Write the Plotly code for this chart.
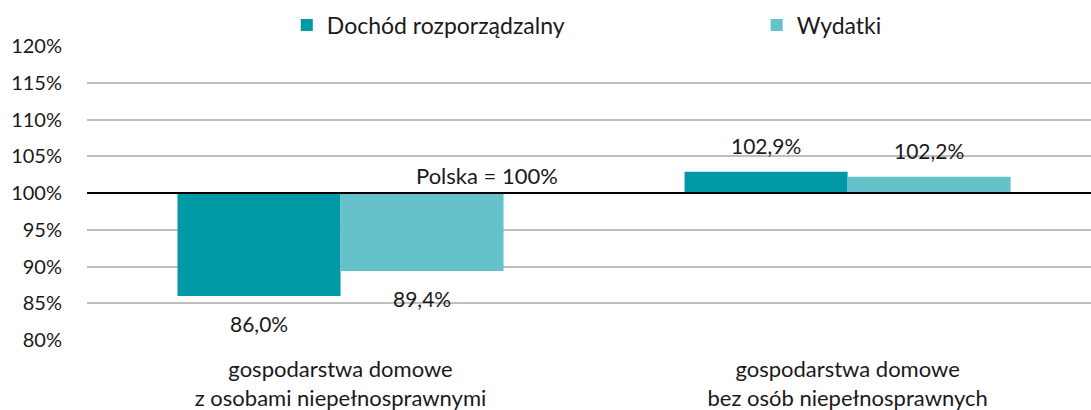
import plotly.graph_objects as go

categories = ["gospodarstwa domowe<br>z osobami niepełnosprawnymi",
              "gospodarstwa domowe<br>bez osób niepełnosprawnych"]
series_names = ["Dochód rozporządzalny", "Wydatki"]
dochod = [86.0, 102.9]
wydatki = [89.4, 102.2]
baseline = 100
y_ticks = [80, 85, 90, 95, 100, 105, 110, 115, 120]
y_ticklabels = [f"{v}%" for v in y_ticks]
colors = ["#009AA6", "#66C2CA"]

FONT = "Lato"
TXT = "#1a1a1a"
fig = go.Figure()
legend_ids = ["legend", "legend2"]
for name, vals, col, lg in zip(series_names, [dochod, wydatki], colors, legend_ids):
    fig.add_trace(go.Bar(
        name=name, x=categories, y=[v - baseline for v in vals], base=baseline,
        marker=dict(color=col, line=dict(width=0)),
        hoverinfo="skip", legend=lg,
    ))

def fmt(v):
    return f"{v:.1f}".replace(".", ",") + "%"

half = 0.161
for si, vals in enumerate([dochod, wydatki]):
    for ci, v in enumerate(vals):
        xpos = ci + (-half if si == 0 else half)
        fig.add_annotation(
            x=xpos, y=v, xref="x", yref="y", text=fmt(v), showarrow=False,
            yshift=(-28 if v < baseline else 26),
            font=dict(family=FONT, size=21, color=TXT),
        )

fig.add_annotation(x=0.288, y=baseline, xref="x", yref="y", text="Polska = 100%",
                   showarrow=False, yshift=18,
                   font=dict(family=FONT, size=22, color=TXT))

fig.add_shape(type="line", xref="paper", yref="y", x0=0, x1=1, y0=baseline, y1=baseline,
              line=dict(color="#000000", width=2))

leg_common = dict(orientation="h", yanchor="middle", y=1.0714, xanchor="left",
                  font=dict(family=FONT, size=23, color=TXT), itemwidth=30,
                  bgcolor="rgba(0,0,0,0)", borderwidth=0)
fig.update_layout(
    width=1091, height=410,
    margin=dict(l=87, r=0, t=46, b=70, autoexpand=False),
    paper_bgcolor="white", plot_bgcolor="white",
    barmode="group", bargap=0.357, bargroupgap=0,
    font=dict(family=FONT, size=20, color=TXT),
    showlegend=True,
    legend=dict(x=0.199, **leg_common),
    legend2=dict(x=0.667, **leg_common),
    xaxis=dict(range=[-0.5, 1.48], showgrid=False, showline=False, ticks="",
               automargin=False,
               tickfont=dict(family=FONT, size=22, color=TXT), ticklabelstandoff=14),
    yaxis=dict(range=[80, 120], tickvals=y_ticks, ticktext=y_ticklabels,
               showgrid=True, gridcolor="#BFBFBF", gridwidth=1.5, zeroline=False,
               showline=False, ticks="", ticklabelstandoff=24, automargin=False,
               tickfont=dict(family=FONT, size=20, color=TXT)),
)

fig.write_html("out.html", config={"displayModeBar": False},
               post_script="document.body.style.margin='0';document.body.style.overflow='hidden';")
